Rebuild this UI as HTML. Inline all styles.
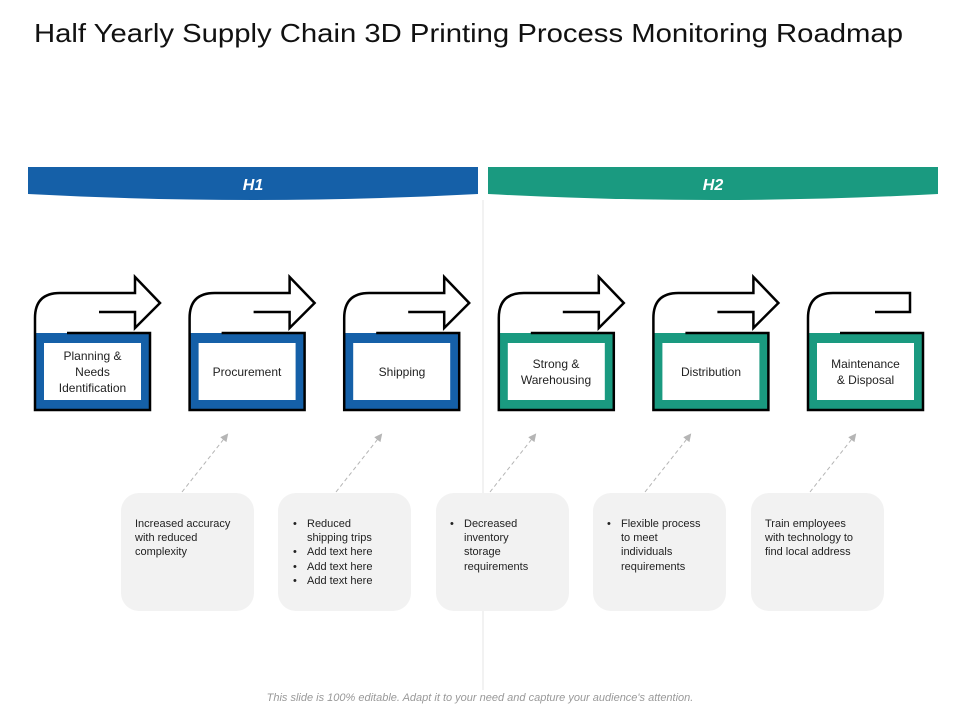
<!DOCTYPE html>
<html><head><meta charset="utf-8"><style>
body{margin:0;background:#fff;width:960px;height:720px;overflow:hidden}
svg text{font-family:"Liberation Sans",Arial,sans-serif}
</style></head><body>
<svg width="960" height="720" xmlns="http://www.w3.org/2000/svg">
<text x="34" y="42" font-size="26" fill="#111" textLength="869" lengthAdjust="spacingAndGlyphs">Half Yearly Supply Chain 3D Printing Process Monitoring Roadmap</text>
<line x1="483" y1="200" x2="483" y2="690" stroke="#e6e6e6" stroke-width="1"/>
<path d="M28 167 H478 V194 Q253 206 28 194 Z" fill="#1560a8"/>
<path d="M488 167 H938 V194 Q713 206 488 194 Z" fill="#1a9a80"/>
<text x="253" y="190" font-size="16" font-weight="bold" font-style="italic" fill="#fff" text-anchor="middle">H1</text>
<text x="713" y="190" font-size="16" font-weight="bold" font-style="italic" fill="#fff" text-anchor="middle">H2</text>
<defs>
<marker id="ah" markerWidth="8" markerHeight="8" refX="6" refY="4" orient="auto"><path d="M0 0 L8 4 L0 8 Z" fill="#b5b5b5"/></marker>
<g id="arr"><rect x="0" y="333" width="115" height="77" stroke="none"/><path d="M32 333 H115 V410 H0 V318 Q0 293 25 293 H100 V277 L125 303 L100 328 V312 H64" fill="none"/></g>
</defs>
<g stroke="#000" stroke-width="2.5">
<g fill="#1560a8">
<use href="#arr" x="35"/><use href="#arr" x="189.6"/><use href="#arr" x="344.2"/>
</g>
<g fill="#1a9a80">
<use href="#arr" x="498.8"/><use href="#arr" x="653.4"/>
<g transform="translate(808,0)"><rect x="0" y="333" width="115" height="77" stroke="none"/><path d="M32 333 H115 V410 H0 V318 Q0 293 25 293 H102 V312 H67" fill="none"/></g>
</g>
</g>
<g fill="#fff">
<rect x="44" y="343" width="97" height="57"/><rect x="198.6" y="343" width="97" height="57"/><rect x="353.2" y="343" width="97" height="57"/>
<rect x="507.8" y="343" width="97" height="57"/><rect x="662.4" y="343" width="97" height="57"/><rect x="817" y="343" width="97" height="57"/>
</g>
<g font-size="12" fill="#222" text-anchor="middle">
<text x="92.5" y="360">Planning &amp;</text><text x="92.5" y="376">Needs</text><text x="92.5" y="392">Identification</text>
<text x="247" y="376">Procurement</text>
<text x="402" y="376">Shipping</text>
<text x="556" y="368">Strong &amp;</text><text x="556" y="384">Warehousing</text>
<text x="711" y="376">Distribution</text>
<text x="865.5" y="368">Maintenance</text><text x="865.5" y="384">&amp; Disposal</text>
</g>
<g stroke="#b5b5b5" stroke-width="1" stroke-dasharray="4,3" marker-end="url(#ah)">
<line x1="182" y1="492" x2="227" y2="435"/><line x1="336" y1="492" x2="381" y2="435"/>
<line x1="490" y1="492" x2="535" y2="435"/><line x1="645" y1="492" x2="690" y2="435"/>
<line x1="810" y1="492" x2="855" y2="435"/>
</g>
<g fill="#f2f2f2">
<rect x="121" y="493" width="133" height="118" rx="18"/><rect x="278" y="493" width="133" height="118" rx="18"/>
<rect x="436" y="493" width="133" height="118" rx="18"/><rect x="593" y="493" width="133" height="118" rx="18"/>
<rect x="751" y="493" width="133" height="118" rx="18"/>
</g>
<g font-size="11" fill="#222">
<text x="135" y="527">Increased accuracy</text><text x="135" y="541">with reduced</text><text x="135" y="555">complexity</text>
<text x="293" y="527">•</text><text x="307" y="527">Reduced</text><text x="307" y="541">shipping trips</text>
<text x="293" y="555">•</text><text x="307" y="555">Add text here</text>
<text x="293" y="570">•</text><text x="307" y="570">Add text here</text>
<text x="293" y="584">•</text><text x="307" y="584">Add text here</text>
<text x="450" y="527">•</text><text x="464" y="527">Decreased</text><text x="464" y="541">inventory</text><text x="464" y="555">storage</text><text x="464" y="570">requirements</text>
<text x="607" y="527">•</text><text x="621" y="527">Flexible process</text><text x="621" y="541">to meet</text><text x="621" y="555">individuals</text><text x="621" y="570">requirements</text>
<text x="765" y="527">Train employees</text><text x="765" y="541">with technology to</text><text x="765" y="555">find local address</text>
</g>
<text x="480" y="701" font-size="11" font-style="italic" fill="#999" text-anchor="middle">This slide is 100% editable. Adapt it to your need and capture your audience's attention.</text>
</svg>
</body></html>
